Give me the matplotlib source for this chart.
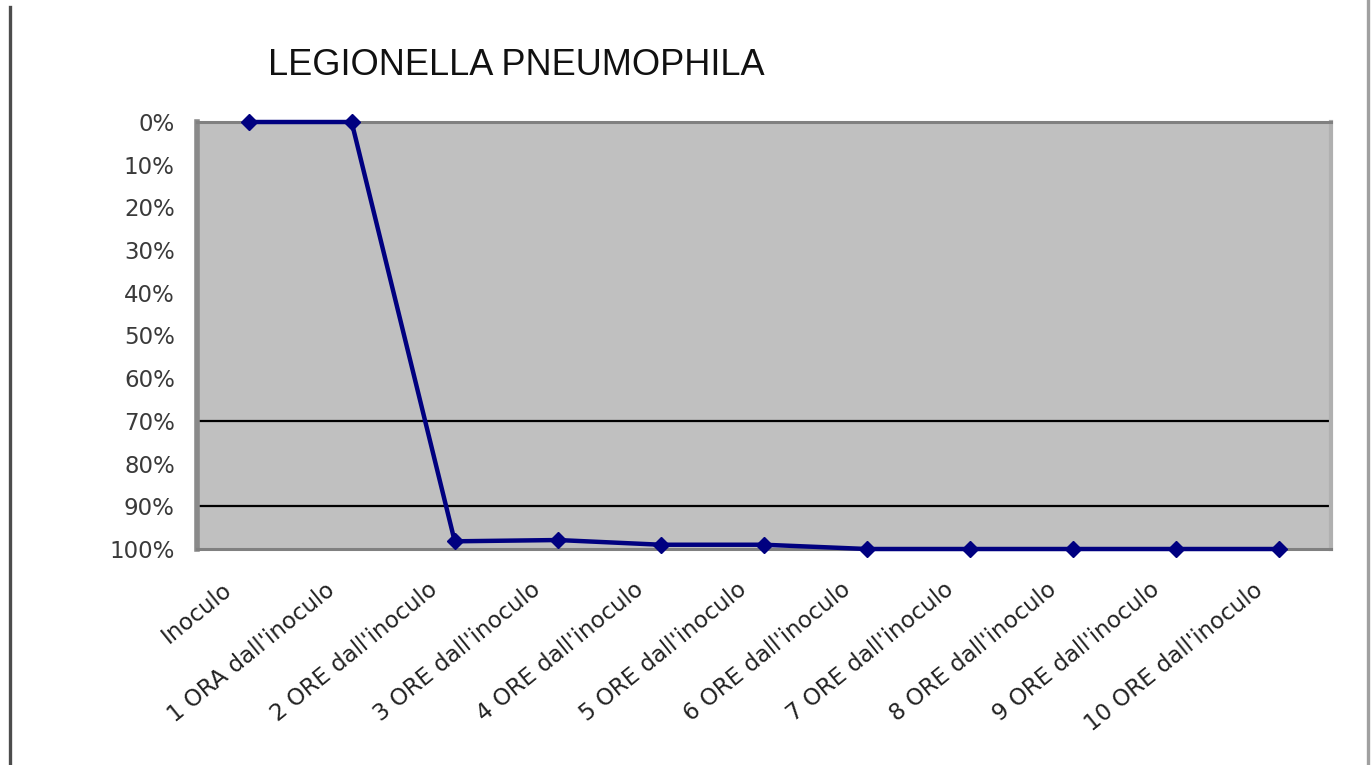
import matplotlib
matplotlib.use("Agg")
import matplotlib.pyplot as plt
from matplotlib.ticker import FixedLocator, FuncFormatter
from matplotlib.transforms import ScaledTranslation
from matplotlib.lines import Line2D

categories = ["Inoculo", "1 ORA dall'inoculo", "2 ORE dall'inoculo", "3 ORE dall'inoculo",
              "4 ORE dall'inoculo", "5 ORE dall'inoculo", "6 ORE dall'inoculo",
              "7 ORE dall'inoculo", "8 ORE dall'inoculo", "9 ORE dall'inoculo",
              "10 ORE dall'inoculo"]
reduction = [0.0, 0.0, 0.982, 0.979, 0.990, 0.990, 1.0, 1.0, 1.0, 1.0, 1.0]
ref_lines = [0.70, 0.90]
y_ticks = [0.0, 0.1, 0.2, 0.3, 0.4, 0.5, 0.6, 0.7, 0.8, 0.9, 1.0]
title = "LEGIONELLA PNEUMOPHILA"

W, H, DPI = 1371, 765, 100
fig = plt.figure(figsize=(W / DPI, H / DPI), dpi=DPI)
fig.patch.set_facecolor("white")

# axes placement in pixels
x0, x1, y0, y1 = 197, 1331, 122, 549
ax = fig.add_axes([x0 / W, 1 - y1 / H, (x1 - x0) / W, (y1 - y0) / H])
ax.set_facecolor("#c0c0c0")

xs = list(range(len(categories)))
for yv in ref_lines:
    ax.axhline(yv, color="black", lw=1.6, zorder=2)

ax.plot(xs, reduction, color="#000080", lw=3.2, marker="D", markersize=8,
        markerfacecolor="#000080", markeredgecolor="#000080", zorder=4, clip_on=False)

ax.set_xlim(-0.5, len(categories) - 0.5)
ax.set_ylim(1.0, 0.0)

# y axis
ax.yaxis.set_major_locator(FixedLocator(y_ticks))
ax.yaxis.set_major_formatter(FuncFormatter(lambda v, p: f"{int(round(v * 100))}%"))
ax.tick_params(axis="y", which="major", length=0, pad=16, labelsize=16.5,
               labelcolor="#3a3a3a")
ax.yaxis.set_minor_locator(FixedLocator([0.0] + ref_lines))
ax.tick_params(axis="y", which="minor", length=6, width=1.6, color="black")

# x axis
ax.set_xticks(xs)
ax.set_xticklabels(categories, rotation=39, ha="right", va="top",
                   rotation_mode="anchor", fontsize=16.5, color="#222222")
ax.tick_params(axis="x", length=0, pad=21)
for lbl in ax.get_xticklabels():
    lbl.set_transform(lbl.get_transform() + ScaledTranslation(-27 / DPI, 0, fig.dpi_scale_trans))

# spines
for side in ["top", "bottom"]:
    ax.spines[side].set_color("#808080")
    ax.spines[side].set_linewidth(2.2)
ax.spines["left"].set_color("#8a8a8a")
ax.spines["left"].set_linewidth(4)
ax.spines["right"].set_color("#b0b0b0")
ax.spines["right"].set_linewidth(3)

# title
fig.text(268 / W, 1 - 75 / H, title, fontsize=26, family="Liberation Sans",
         color="#111111", ha="left", va="baseline")

# outer frame lines
fig.add_artist(Line2D([9.5 / W, 9.5 / W], [0, 1 - 7 / H], transform=fig.transFigure,
                      color="#4d4d4d", lw=2.4))
fig.add_artist(Line2D([1368 / W, 1368 / W], [0, 1], transform=fig.transFigure,
                      color="#a0a0a0", lw=2.4))

fig.savefig("out.png", dpi=DPI)
